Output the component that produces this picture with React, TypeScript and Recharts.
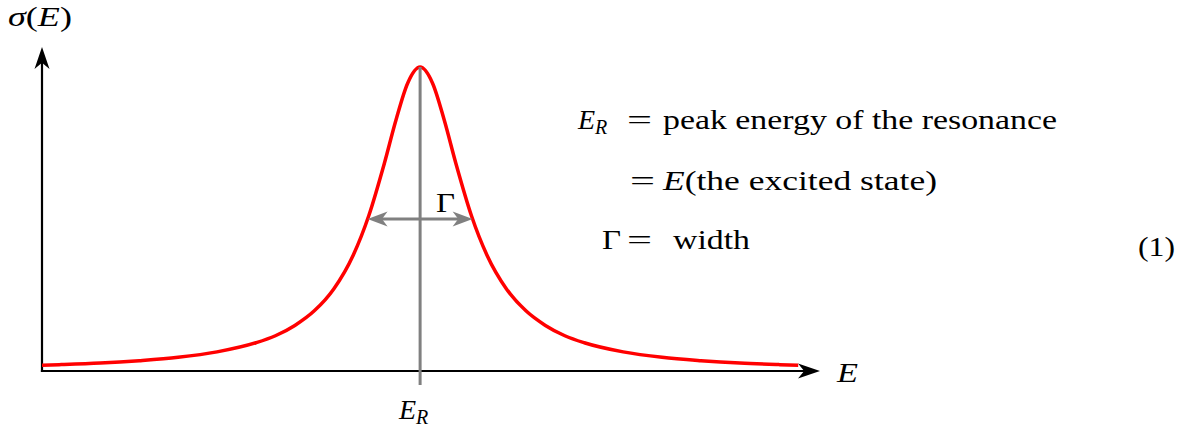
import { LineChart, Line, XAxis, YAxis, ReferenceLine } from "recharts";

// energy in arbitrary units, sigma normalised to the peak
const energies = [
  0, 0.25, 0.75, 1.25, 1.75, 2.25, 2.75, 3.0, 3.25, 3.5, 3.75, 4.0, 4.2, 4.4,
  4.55, 4.7, 4.86, 5.02, 5.17, 5.32, 5.52, 5.72, 5.97, 6.22, 6.47, 6.72, 6.97,
  7.47, 7.97, 8.47, 8.97, 9.47, 9.72,
];
const crossSection = [
  0.019, 0.021, 0.026, 0.034, 0.045, 0.063, 0.093, 0.116, 0.15, 0.198, 0.27,
  0.381, 0.511, 0.683, 0.826, 0.947, 1, 0.947, 0.826, 0.683, 0.511, 0.381,
  0.27, 0.198, 0.15, 0.116, 0.093, 0.063, 0.045, 0.034, 0.026, 0.021, 0.019,
];
const peakEnergy = 4.86;
const halfWidth = 0.675;
const halfMax = 0.5;
const xMax = 10;
const yMax = 1.066;

const chartData = energies.map((E, i) => ({ E, sigma: crossSection[i] }));

const FONT = "Liberation Serif";

function head(tx: number, ty: number, ux: number, uy: number, len: number, half: number) {
  const bx = tx - ux * len;
  const by = ty - uy * len;
  const nx = -uy;
  const ny = ux;
  const ix = tx - ux * len * 0.72;
  const iy = ty - uy * len * 0.72;
  return `M${tx},${ty} L${bx + nx * half},${by + ny * half} L${ix},${iy} L${bx - nx * half},${by - ny * half} Z`;
}

function arrowShape(color: string, width: number, len: number, half: number, both: boolean) {
  return (props: any) => {
    const { x1, y1, x2, y2 } = props;
    const d = Math.hypot(x2 - x1, y2 - y1) || 1;
    const ux = (x2 - x1) / d;
    const uy = (y2 - y1) / d;
    const inset = len * 0.7;
    const sx = both ? x1 + ux * inset : x1;
    const sy = both ? y1 + uy * inset : y1;
    return (
      <g>
        <line
          x1={sx}
          y1={sy}
          x2={x2 - ux * inset}
          y2={y2 - uy * inset}
          stroke={color}
          strokeWidth={width}
          strokeLinecap={both ? "butt" : "square"}
        />
        <path d={head(x2, y2, ux, uy, len, half)} fill={color} />
        {both && <path d={head(x1, y1, -ux, -uy, len, half)} fill={color} />}
      </g>
    );
  };
}

const fit = { lengthAdjust: "spacingAndGlyphs" as const };

function Labels() {
  return (
    <g style={{ fontFamily: FONT }} fontSize={28} fill="#000">
      <text x={8} y={26} textLength={64} {...fit}>
        <tspan fontStyle="italic">σ</tspan>(<tspan fontStyle="italic">E</tspan>)
      </text>
      <text x={837} y={382} fontStyle="italic" textLength={21} {...fit}>E</text>
      <text x={399} y={419}>
        <tspan fontStyle="italic">E</tspan>
        <tspan fontStyle="italic" fontSize={20} dy={5}>R</tspan>
      </text>
      <text x={436} y={212} textLength={19} {...fit}>Γ</text>

      <text x={578} y={129}>
        <tspan fontStyle="italic">E</tspan>
        <tspan fontStyle="italic" fontSize={20} dy={5}>R</tspan>
      </text>
      <text x={627} y={129} textLength={25} {...fit}>=</text>
      <text x={663} y={129} textLength={394} {...fit}>
        peak energy of the resonance
      </text>

      <text x={630} y={190} textLength={25} {...fit}>=</text>
      <text x={663} y={190} textLength={274} {...fit}>
        <tspan fontStyle="italic">E</tspan>(the excited state)
      </text>

      <text x={602} y={249} textLength={19} {...fit}>Γ</text>
      <text x={627} y={249} textLength={25} {...fit}>=</text>
      <text x={673} y={249} textLength={77} {...fit}>width</text>

      <text x={1138} y={256} textLength={37} {...fit}>(1)</text>
    </g>
  );
}

export default function App() {
  return (
    <div style={{ position: "absolute", left: 0, top: 0, background: "#fff" }}>
      <LineChart
        width={1199}
        height={430}
        data={chartData}
        margin={{ top: 47, right: 379, bottom: 59, left: 42 }}
      >
        <XAxis type="number" dataKey="E" domain={[0, xMax]} hide />
        <YAxis type="number" domain={[0, yMax]} hide />
        <ReferenceLine
          segment={[{ x: 0, y: 0 }, { x: xMax, y: 0 }]}
          ifOverflow="visible"
          shape={arrowShape("#000", 2.2, 22, 7.5, false)}
        />
        <ReferenceLine
          segment={[{ x: 0, y: 0 }, { x: 0, y: yMax }]}
          ifOverflow="visible"
          shape={arrowShape("#000", 2.2, 22, 7.5, false)}
        />
        <Line
          type="monotone"
          dataKey="sigma"
          stroke="#ff0000"
          strokeWidth={3.5}
          dot={false}
          isAnimationActive={false}
        />
        <ReferenceLine
          segment={[{ x: peakEnergy, y: 1 }, { x: peakEnergy, y: -0.046 }]}
          ifOverflow="visible"
          stroke="#808080"
          strokeWidth={3}
        />
        <ReferenceLine
          segment={[
            { x: peakEnergy - halfWidth, y: halfMax },
            { x: peakEnergy + halfWidth, y: halfMax },
          ]}
          ifOverflow="visible"
          shape={arrowShape("#808080", 3, 20, 7.5, true)}
        />
        <Labels />
      </LineChart>
    </div>
  );
}
